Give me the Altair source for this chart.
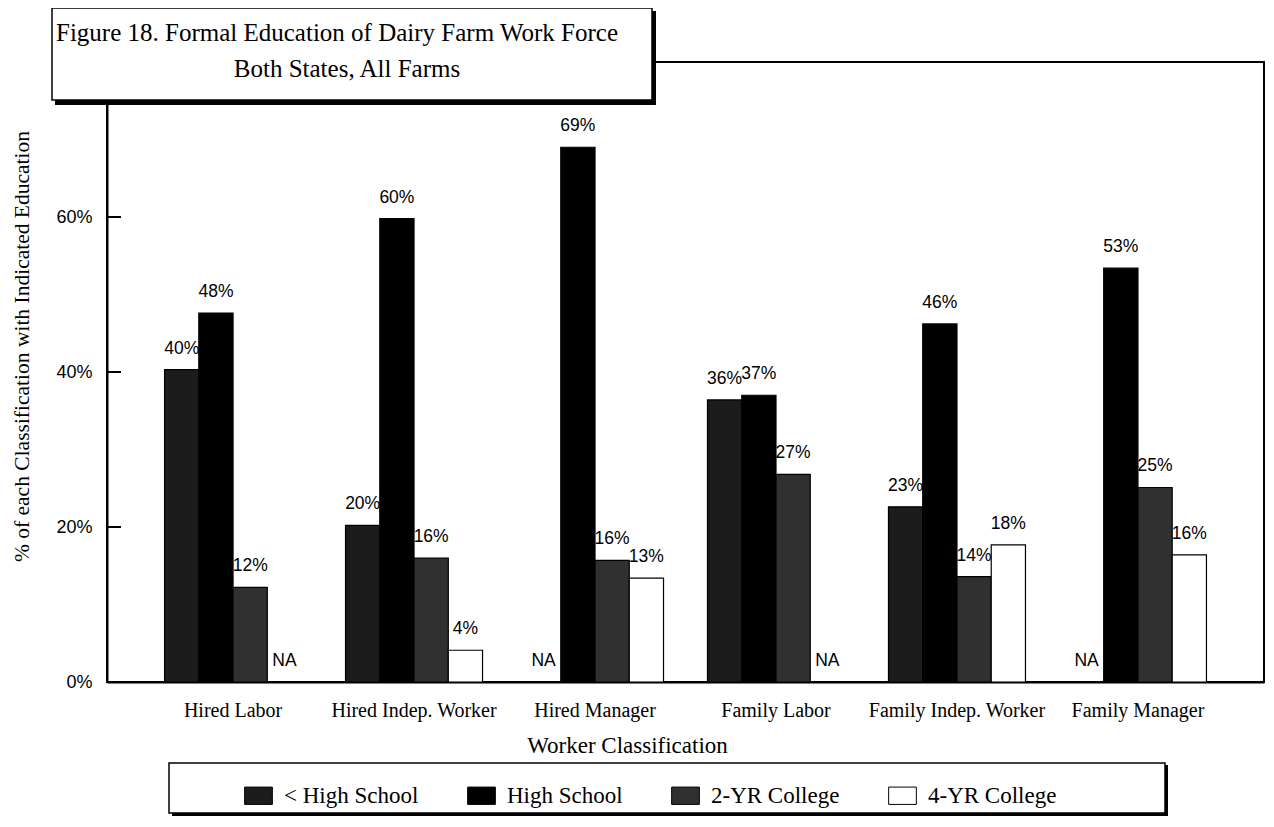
import altair as alt
import pandas as pd

categories = ["Hired Labor", "Hired Indep. Worker", "Hired Manager",
              "Family Labor", "Family Indep. Worker", "Family Manager"]
education_levels = ["< High School", "High School", "2-YR College", "4-YR College"]
less_than_high_school = [40.3, 20.2, None, 36.4, 22.6, None]
high_school = [47.6, 59.8, 69.0, 37.0, 46.2, 53.4]
two_year_college = [12.2, 16.0, 15.7, 26.8, 13.6, 25.1]
four_year_college = [None, 4.1, 13.4, None, 17.7, 16.4]
y_tick_values = [0, 0.2, 0.4, 0.6]
inner_tick_values = [0.2, 0.4, 0.6]
title_lines = ["Figure 18. Formal Education of Dairy Farm Work Force", "Both States, All Farms"]
bar_colors = ["#1c1c1c", "#000000", "#303030", "#ffffff"]

SERIF = "Liberation Serif"
SANS = "Liberation Sans"

rows = []
for level, series in zip(education_levels,
                         [less_than_high_school, high_school, two_year_college, four_year_college]):
    for cat, v in zip(categories, series):
        rows.append({
            "Category": cat,
            "Education": level,
            "value": None if v is None else v / 100.0,
            "ylab": 0.0 if v is None else v / 100.0,
            "label": "NA" if v is None else f"{int(round(v))}%",
        })
df = pd.DataFrame(rows)

x_enc = alt.X("Category:N", sort=categories,
              scale=alt.Scale(paddingInner=0.243, paddingOuter=0.318),
              axis=alt.Axis(title="Worker Classification", labelAngle=0, ticks=False,
                            labelPadding=18, labelFont=SERIF, labelFontSize=20,
                            labelColor="black", titleFont=SERIF, titleFontSize=23,
                            titleFontWeight="normal", titleColor="black",
                            titleX=520, titleY=63, titleBaseline="middle",
                            domainColor="black", domainWidth=2))
xo_enc = alt.XOffset("Education:N", sort=education_levels,
                     scale=alt.Scale(paddingInner=0, paddingOuter=0))
y_axis = alt.Axis(title="% of each Classification with Indicated Education",
                  values=y_tick_values, format=".0%", ticks=False, grid=False,
                  labelPadding=15, labelFont=SANS, labelFontSize=18, labelColor="black",
                  titleFont=SERIF, titleFontSize=21.5, titleFontWeight="normal",
                  titleColor="black", titleX=-85, titleY=284, titleBaseline="middle",
                  titleAlign="center", titleAngle=-90,
                  domainColor="black", domainWidth=2)

base = alt.Chart(df)

bars = base.mark_bar(stroke="black", strokeWidth=1.2).encode(
    x=x_enc,
    xOffset=xo_enc,
    y=alt.Y("value:Q", scale=alt.Scale(domain=[0, 0.8], nice=False), axis=y_axis),
    color=alt.Color("Education:N", sort=education_levels,
                    scale=alt.Scale(domain=education_levels, range=bar_colors),
                    legend=alt.Legend(orient="none", legendX=140, legendY=722,
                                      direction="horizontal", title=None,
                                      labelFont=SERIF, labelFontSize=23, labelColor="black",
                                      symbolType="M-1.6,-1H1.6V1H-1.6Z", symbolSize=300,
                                      symbolStrokeColor="black", symbolStrokeWidth=1,
                                      symbolOpacity=1, labelOffset=14, columnPadding=46)),
)

labels = base.mark_text(font=SANS, fontSize=17.5, dy=-21, baseline="middle",
                        color="black").encode(
    x=alt.X("Category:N", sort=categories),
    xOffset=alt.XOffset("Education:N", sort=education_levels),
    y=alt.Y("ylab:Q"),
    text="label:N",
)

ticks = alt.Chart(pd.DataFrame({"t": inner_tick_values})).mark_rule(
    color="black", strokeWidth=2).encode(
    y=alt.Y("t:Q"), x=alt.value(0), x2=alt.value(14))

one = pd.DataFrame({"k": [0]})
title_shadow = alt.Chart(one).mark_rect(color="black").encode(
    x=alt.value(-52), x2=alt.value(549), y=alt.value(-51), y2=alt.value(43))
title_box = alt.Chart(one).mark_rect(fill="white", stroke="black", strokeWidth=1.5).encode(
    x=alt.value(-55), x2=alt.value(545), y=alt.value(-54), y2=alt.value(38))
title1 = alt.Chart(pd.DataFrame({"t": [title_lines[0]]})).mark_text(
    font=SERIF, fontSize=25, color="black", baseline="middle", align="center").encode(
    text="t:N", x=alt.value(230), y=alt.value(-29))
title2 = alt.Chart(pd.DataFrame({"t": [title_lines[1]]})).mark_text(
    font=SERIF, fontSize=25, color="black", baseline="middle", align="center").encode(
    text="t:N", x=alt.value(240), y=alt.value(7))

legend_shadow = alt.Chart(one).mark_rect(color="black").encode(
    x=alt.value(65), x2=alt.value(1061), y=alt.value(703), y2=alt.value(754))
legend_box = alt.Chart(one).mark_rect(fill="white", stroke="black", strokeWidth=1.5).encode(
    x=alt.value(62), x2=alt.value(1058), y=alt.value(701), y2=alt.value(751))

chart = alt.layer(
    bars, labels, ticks, title_shadow, title_box, title1, title2, legend_shadow, legend_box
).properties(
    width=1157, height=620,
    padding={"left": 99, "top": 54, "right": 2, "bottom": 137},
    autosize=alt.AutoSizeParams(type="none"),
    background="white",
).configure_view(stroke="black", strokeWidth=2)

chart.save("out.html", embed_options={"renderer": "svg", "actions": False})
